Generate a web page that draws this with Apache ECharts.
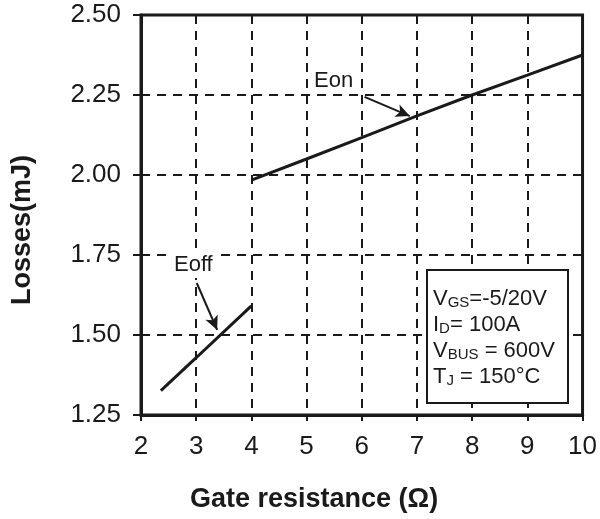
<!DOCTYPE html>
<html><head><meta charset="utf-8">
<script src="https://cdn.jsdelivr.net/npm/echarts@6/dist/echarts.min.js"></script>
<style>html,body{margin:0;padding:0;background:#fff}#c{width:600px;height:519px}</style>
</head><body><div id="c"></div>
<script>
const xTicks = [2,3,4,5,6,7,8,9,10];
const yTicks = [1.25,1.50,1.75,2.00,2.25,2.50];
const eonR = [4,5,6,7,8,9,10];
const eonE = [1.984,2.05,2.117,2.185,2.25,2.312,2.375];
const eoffR = [2.36,3,4];
const eoffE = [1.326,1.429,1.591];
const eonArrow = [[6.05,2.244],[6.87,2.184]];
const eoffArrow = [[3.01,1.6625],[3.38,1.516]];
const xTitle = 'Gate resistance (Ω)';
const yTitle = 'Losses(mJ)';

const FONT = '"Liberation Sans", Arial, sans-serif';
const INK = '#1a1a1a';
const chart = echarts.init(document.getElementById('c'));
const pair = (xs, ys) => xs.map((x,i)=>[x, ys[i]]);
chart.setOption({
  animation:false,
  backgroundColor:'#fff',
  grid:{left:141,right:17,top:15,bottom:104,show:true,borderColor:INK,borderWidth:3,backgroundColor:'transparent'},
  xAxis:{type:'value',min:xTicks[0],max:xTicks[xTicks.length-1],interval:1,
    axisLine:{lineStyle:{color:INK,width:3}},
    axisTick:{show:true,length:6,lineStyle:{color:INK,width:2}},
    axisLabel:{color:INK,fontSize:26,fontFamily:FONT,margin:19},
    splitLine:{show:true,lineStyle:{color:INK,width:2,type:[9,7]}}},
  yAxis:{type:'value',min:yTicks[0],max:yTicks[yTicks.length-1],interval:0.25,
    axisLine:{show:true,lineStyle:{color:INK,width:3}},
    axisTick:{show:true,length:8,lineStyle:{color:INK,width:2}},
    axisLabel:{color:INK,fontSize:26,fontFamily:FONT,margin:20,formatter:v=>v.toFixed(2)},
    splitLine:{show:true,lineStyle:{color:INK,width:2,type:[9,7]}}},
  series:[
    {type:'line',name:'Eon',data:pair(eonR,eonE),symbol:'none',lineStyle:{color:INK,width:3},
     markLine:{silent:true,symbol:['none','arrow'],symbolSize:[10,14],label:{show:false},
       lineStyle:{color:INK,width:2,type:'solid'},
       data:[[{coord:eonArrow[0]},{coord:eonArrow[1]}]]}},
    {type:'line',name:'Eoff',data:pair(eoffR,eoffE),symbol:'none',lineStyle:{color:INK,width:3},
     markLine:{silent:true,symbol:['none','arrow'],symbolSize:[10,14],label:{show:false},
       lineStyle:{color:INK,width:2,type:'solid'},
       data:[[{coord:eoffArrow[0]},{coord:eoffArrow[1]}]]}}
  ],
  graphic:[
    {type:'rect',shape:{x:427,y:270,width:141,height:133},style:{fill:'#fff',stroke:INK,lineWidth:2},z:100},
    {type:'text',x:433,y:284,z:101,style:{
      text:'{v|V}{s|GS}{v|=-5/20V}\n{v|I}{s|D}{v|= 100A}\n{v|V}{s|BUS}{v| = 600V}\n{v|T}{s|J}{v| = 150°C}',
      fill:INK,font:'22px '+FONT,verticalAlign:'top',align:'left',
      rich:{v:{fontSize:22,lineHeight:26,verticalAlign:'bottom',fontFamily:FONT,fill:INK},
            s:{fontSize:15,lineHeight:26,verticalAlign:'bottom',fontFamily:FONT,fill:INK}}}},
    {type:'text',x:312,y:70,z:101,style:{text:'Eon',fill:INK,font:'22px '+FONT,verticalAlign:'top',backgroundColor:'#fff',padding:[0,2,0,2]}},
    {type:'text',x:172,y:254,z:101,style:{text:'Eoff',fill:INK,font:'22px '+FONT,verticalAlign:'top',backgroundColor:'#fff',padding:[0,2,2,2]}},
    {type:'text',x:314,y:500,z:101,style:{text:xTitle,fill:INK,font:'bold 27px '+FONT,align:'center',verticalAlign:'middle'}},
    {type:'text',x:23,y:230,rotation:Math.PI/2,z:101,style:{text:yTitle,fill:INK,font:'bold 27px '+FONT,align:'center',verticalAlign:'middle'}}
  ]
});
</script></body></html>
